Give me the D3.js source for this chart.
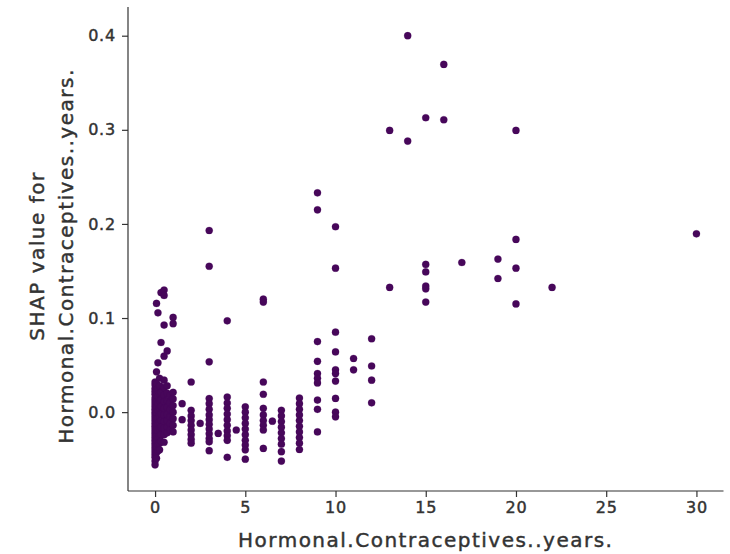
<!DOCTYPE html>
<html>
<head>
<meta charset="utf-8">
<script src="https://cdn.jsdelivr.net/npm/d3@7"></script>
<style>
  html, body { margin: 0; padding: 0; background: #ffffff; }
  svg { display: block; }
  text { font-family: "DejaVu Sans", sans-serif; }
</style>
</head>
<body>
<svg id="chart" width="730" height="554"></svg>
<script>
// ---- Data ----
const xTickValues = [0, 5, 10, 15, 20, 25, 30];
const yTickValues = [0.0, 0.1, 0.2, 0.3, 0.4];
const xAxisTitle = "Hormonal.Contraceptives..years.";
const yAxisTitleLines = ["SHAP value for", "Hormonal.Contraceptives..years."];

// Hormonal.Contraceptives..years. value of each column of points
const columnYears = [
  0, 0.08, 0.16, 0.25, 0.33, 0.5, 0.67, 0.83, 1, 1.5, 2, 2.5, 3, 3.5, 4, 4.5,
  5, 6, 6.5, 7, 8, 9, 10, 11, 12, 13, 14, 15, 16, 17, 19, 20, 22, 30
];
// SHAP values of the points in each column
const columnShap = [
  [0.032, 0.029, 0.025, 0.022, 0.019, 0.015, 0.012, 0.009, 0.006, 0.003, 0.0, -0.003, -0.006, -0.009, -0.012, -0.015, -0.018, -0.021, -0.024, -0.027, -0.03, -0.033, -0.036, -0.039, -0.042, -0.045, -0.048, -0.052, -0.056],
  [0.03, 0.024, 0.018, 0.011, 0.005, -0.001, -0.007, -0.013, -0.019, -0.025, -0.031, -0.037, -0.043, -0.049, 0.1155, 0.0428],
  [0.025, 0.017, 0.009, 0.002, -0.006, -0.012, -0.02, -0.027, -0.034, -0.041, 0.1055, 0.0524],
  [0.036, 0.028, 0.02, 0.012, 0.004, -0.004, -0.011, -0.018, -0.026, -0.033, -0.04],
  [0.021, 0.013, 0.006, -0.002, -0.009, -0.016, -0.024, -0.031, 0.127, 0.074],
  [0.034, 0.026, 0.018, 0.011, 0.004, -0.003, -0.01, -0.017, -0.024, -0.032, 0.1297, 0.124, 0.0925, 0.0595],
  [0.028, 0.02, 0.012, 0.005, -0.002, -0.009, -0.016, -0.022, 0.065],
  [0.018, 0.01, 0.003, -0.005, -0.012, -0.019],
  [0.021, 0.014, 0.007, 0.0, -0.007, -0.014, -0.021, 0.1006, 0.094],
  [0.009, -0.008],
  [0.032, 0.002, -0.004, -0.009, -0.014, -0.019, -0.024, -0.029, -0.033],
  [-0.012],
  [0.193, 0.155, 0.0535, 0.0145, 0.009, 0.003, -0.003, -0.008, -0.013, -0.018, -0.023, -0.028, -0.0315, -0.041],
  [-0.0226],
  [0.097, 0.016, 0.0096, 0.004, -0.002, -0.008, -0.014, -0.02, -0.025, -0.03, -0.048],
  [-0.019],
  [0.0056, 0.0, -0.006, -0.012, -0.018, -0.024, -0.03, -0.035, -0.04, -0.05],
  [0.12, 0.117, 0.032, 0.019, 0.004, -0.003, -0.009, -0.014, -0.019, -0.0386],
  [-0.0096],
  [0.002, -0.004, -0.01, -0.016, -0.022, -0.028, -0.034, -0.042, -0.052],
  [0.015, 0.009, 0.003, -0.003, -0.009, -0.015, -0.021, -0.027, -0.033, -0.0397],
  [0.233, 0.215, 0.075, 0.054, 0.041, 0.036, 0.031, 0.0128, 0.003, -0.021],
  [0.197, 0.153, 0.085, 0.064, 0.045, 0.041, 0.033, 0.0146, 0.0, -0.005],
  [0.057, 0.045],
  [0.078, 0.049, 0.034, 0.0099],
  [0.2993, 0.1325],
  [0.400, 0.288],
  [0.3128, 0.157, 0.149, 0.134, 0.131, 0.117],
  [0.3695, 0.3107],
  [0.159],
  [0.1626, 0.142],
  [0.2993, 0.1835, 0.153, 0.115],
  [0.1325],
  [0.1895]
];

// ---- Build points ----
const points = [];
columnYears.forEach((x, i) => {
  columnShap[i].forEach(y => points.push({ x: x, y: y }));
});

// ---- Layout ----
const svg = d3.select("#chart");
const plotLeft = 128, plotRight = 723.5, plotTop = 7, plotBottom = 491;
const textColor = "#333333";
const dotColor = "#47075a";

const xScale = d3.scaleLinear().domain([-1.5, 31.5]).range([plotLeft, plotRight]);
const yScale = d3.scaleLinear().domain([-0.0838, 0.4305]).range([plotBottom, plotTop]);

// Points
svg.append("g")
  .selectAll("circle")
  .data(points)
  .join("circle")
  .attr("cx", d => xScale(d.x))
  .attr("cy", d => yScale(d.y))
  .attr("r", 3.6)
  .attr("fill", dotColor)
  .attr("stroke", dotColor)
  .attr("stroke-opacity", 0.25)
  .attr("stroke-width", 0.8);

function styleText(sel, size, spacing) {
  sel.attr("fill", textColor)
    .attr("stroke", textColor)
    .attr("stroke-width", 0.45)
    .style("font-size", size + "px")
    .style("letter-spacing", spacing + "px")
    .style("font-family", "'DejaVu Sans', sans-serif");
}

// X axis
const xAxis = svg.append("g")
  .attr("transform", `translate(0,${plotBottom})`)
  .call(d3.axisBottom(xScale).tickValues(xTickValues).tickFormat(d3.format("d")).tickSize(6).tickPadding(5).tickSizeOuter(0));
xAxis.select(".domain").attr("stroke", textColor).attr("stroke-width", 1.2)
  .attr("d", `M${plotLeft},0H${plotRight}`);
xAxis.selectAll(".tick line").attr("stroke", textColor).attr("stroke-width", 1.2);
styleText(xAxis.selectAll(".tick text"), 16, 0.8);

// Y axis
const yAxis = svg.append("g")
  .attr("transform", `translate(${plotLeft},0)`)
  .call(d3.axisLeft(yScale).tickValues(yTickValues).tickFormat(d3.format(".1f")).tickSize(6).tickPadding(6).tickSizeOuter(0));
yAxis.select(".domain").attr("stroke", textColor).attr("stroke-width", 1.2)
  .attr("d", `M0,${plotBottom}V${plotTop}`);
yAxis.selectAll(".tick line").attr("stroke", textColor).attr("stroke-width", 1.2);
styleText(yAxis.selectAll(".tick text"), 16, 0.8);

// X axis title
styleText(svg.append("text")
  .attr("x", (plotLeft + plotRight) / 2)
  .attr("y", 547)
  .attr("text-anchor", "middle")
  .text(xAxisTitle), 20, 1.5);

// Y axis title (two lines)
const yTitleCenter = 256;
const yTitleBaselines = [44, 73];
yAxisTitleLines.forEach((line, i) => {
  styleText(svg.append("text")
    .attr("transform", `translate(${yTitleBaselines[i]},${yTitleCenter}) rotate(-90)`)
    .attr("text-anchor", "middle")
    .text(line), 20, 1.5);
});
</script>
</body>
</html>
